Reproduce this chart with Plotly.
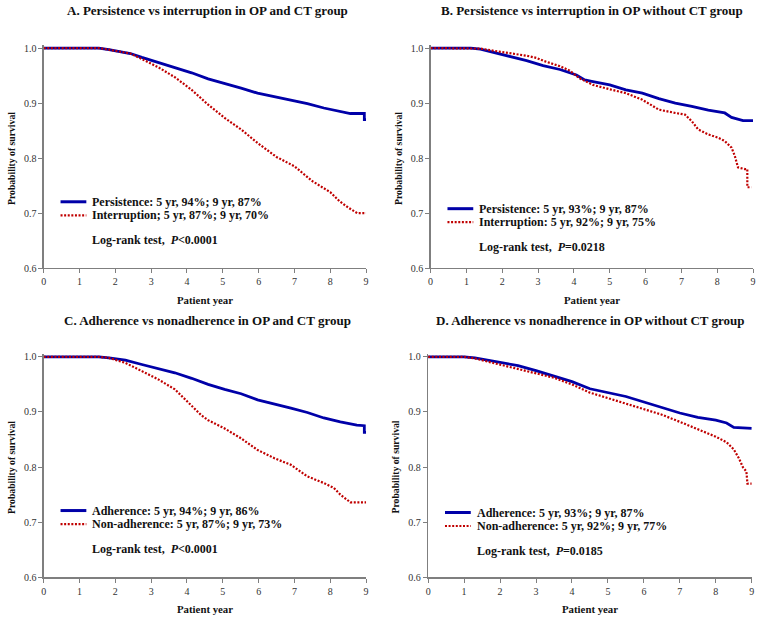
import plotly.graph_objects as go

# ---------------- data ----------------
titles = [
    "A. Persistence vs interruption in OP and CT group",
    "B. Persistence vs interruption in OP without CT group",
    "C. Adherence vs nonadherence in OP and CT group",
    "D. Adherence vs nonadherence in OP without CT group",
]
legend_blue = [
    "Persistence: 5 yr, 94%; 9 yr, 87%",
    "Persistence: 5 yr, 93%; 9 yr, 87%",
    "Adherence: 5 yr, 94%; 9 yr, 86%",
    "Adherence: 5 yr, 93%; 9 yr, 87%",
]
legend_red = [
    "Interruption; 5 yr, 87%; 9 yr, 70%",
    "Interruption: 5 yr, 92%; 9 yr, 75%",
    "Non-adherence: 5 yr, 87%; 9 yr, 73%",
    "Non-adherence: 5 yr, 92%; 9 yr, 77%",
]
pvalues = ["&lt;0.0001", "=0.0218", "&lt;0.0001", "=0.0185"]

x_ticks = [0, 1, 2, 3, 4, 5, 6, 7, 8, 9]
y_ticks = [0.6, 0.7, 0.8, 0.9, 1.0]

# Panel A
a_blue_t = [0, 1.54, 1.82, 2.42, 2.74, 3.2, 3.66, 4.13, 4.59, 5.05, 5.51, 5.97, 6.44, 6.9, 7.36, 7.82, 8.28, 8.56, 8.95, 8.95, 9.0]
a_blue_s = [1.0, 1.0, 0.997, 0.990, 0.983, 0.974, 0.965, 0.955, 0.944, 0.936, 0.927, 0.918, 0.912, 0.905, 0.899, 0.891, 0.885, 0.881, 0.881, 0.870, 0.870]
a_red_t = [0, 1.54, 1.82, 2.42, 2.74, 3.2, 3.66, 4.13, 4.59, 5.05, 5.51, 6.0, 6.5, 7.0, 7.5, 8.0, 8.25, 8.5, 8.75, 9.0]
a_red_s = [1.0, 1.0, 0.997, 0.990, 0.980, 0.965, 0.947, 0.924, 0.897, 0.873, 0.852, 0.826, 0.802, 0.785, 0.758, 0.738, 0.722, 0.710, 0.700, 0.700]

# Panel B
b_blue_t = [0, 1.12, 1.39, 1.76, 2.22, 2.68, 3.14, 3.61, 4.07, 4.3, 4.53, 5.0, 5.45, 5.91, 6.37, 6.83, 7.29, 7.75, 8.21, 8.4, 8.72, 9.0]
b_blue_s = [1.0, 1.0, 0.998, 0.992, 0.985, 0.977, 0.968, 0.961, 0.951, 0.942, 0.939, 0.933, 0.924, 0.918, 0.908, 0.900, 0.894, 0.887, 0.882, 0.874, 0.868, 0.868]
b_red_t = [0, 1.12, 1.39, 1.76, 2.22, 2.68, 2.96, 3.14, 3.61, 3.88, 4.16, 4.53, 5.0, 5.45, 5.91, 6.37, 6.83, 7.1, 7.29, 7.47, 7.75, 8.03, 8.21, 8.4, 8.49, 8.58, 8.77, 8.84, 8.84, 8.95]
b_red_s = [1.0, 1.0, 0.999, 0.995, 0.991, 0.986, 0.982, 0.977, 0.967, 0.959, 0.945, 0.933, 0.925, 0.918, 0.906, 0.888, 0.882, 0.879, 0.867, 0.852, 0.843, 0.837, 0.831, 0.819, 0.804, 0.783, 0.780, 0.780, 0.747, 0.747]

# Panel C
c_blue_t = [0, 1.54, 1.82, 2.28, 2.74, 3.2, 3.66, 4.13, 4.59, 5.05, 5.51, 5.97, 6.44, 6.9, 7.36, 7.82, 8.28, 8.74, 8.95, 8.95, 9.0]
c_blue_s = [1.0, 1.0, 0.998, 0.994, 0.986, 0.979, 0.971, 0.961, 0.950, 0.941, 0.933, 0.922, 0.915, 0.907, 0.899, 0.889, 0.882, 0.876, 0.875, 0.863, 0.863]
c_red_t = [0, 1.54, 1.82, 2.28, 2.74, 3.2, 3.66, 4.13, 4.4, 4.59, 5.05, 5.51, 5.97, 6.44, 6.9, 7.36, 7.82, 8.1, 8.28, 8.56, 9.0]
c_red_s = [1.0, 1.0, 0.998, 0.989, 0.974, 0.959, 0.941, 0.912, 0.894, 0.885, 0.870, 0.852, 0.831, 0.816, 0.804, 0.783, 0.771, 0.762, 0.750, 0.736, 0.736]

# Panel D
d_blue_t = [0, 1.0, 1.3, 2.0, 2.5, 3.0, 3.5, 4.0, 4.5, 5.0, 5.5, 6.0, 6.5, 7.0, 7.5, 8.0, 8.3, 8.5, 9.0]
d_blue_s = [1.0, 1.0, 0.998, 0.990, 0.984, 0.975, 0.965, 0.955, 0.942, 0.935, 0.928, 0.918, 0.908, 0.898, 0.890, 0.885, 0.880, 0.872, 0.870]
d_red_t = [0, 1.0, 1.3, 2.0, 2.5, 3.0, 3.5, 4.0, 4.5, 5.0, 5.5, 6.0, 6.5, 7.0, 7.5, 8.0, 8.3, 8.5, 8.65, 8.75, 8.85, 8.88, 9.0]
d_red_s = [1.0, 1.0, 0.997, 0.986, 0.978, 0.970, 0.962, 0.950, 0.935, 0.925, 0.915, 0.905, 0.895, 0.882, 0.868, 0.855, 0.845, 0.832, 0.815, 0.800, 0.792, 0.770, 0.770]

blue_series = [(a_blue_t, a_blue_s), (b_blue_t, b_blue_s), (c_blue_t, c_blue_s), (d_blue_t, d_blue_s)]
red_series = [(a_red_t, a_red_s), (b_red_t, b_red_s), (c_red_t, c_red_s), (d_red_t, d_red_s)]

# ---------------- layout geometry (pixels) ----------------
W, H = 762, 622
FONT = "Liberation Serif"
BLUE = "#0000A8"
RED = "#C00000"
RED_DASH = "2px,1.6px"

# plot areas: (x0, x9, y_top(1.0), y_bottom(0.6))
panels = [
    (41, 366, 45.7, 269.0),
    (431, 756, 45.7, 269.0),
    (41, 366, 359.0, 582.7),
    (428.5, 754.7, 359.0, 582.7),
]
title_pos = [(206, 8), (594, 8), (206, 322), (592, 322)]
legend_shift = [0, 7, 0, 2]
YTOP = 1.005


def px(x):
    return x / W


def py(y):
    return 1 - y / H


fig = go.Figure()
layout = dict(
    width=W, height=H,
    margin=dict(l=0, r=0, t=0, b=0),
    paper_bgcolor="white", plot_bgcolor="white",
    showlegend=False,
    font=dict(family=FONT, size=10, color="#222"),
)
annotations = []
shapes = []

for i in range(4):
    x0, x9, ytop, ybot = panels[i]
    per = (ybot - ytop) / 0.4
    top_px = ytop - (YTOP - 1.0) * per
    sfx = "" if i == 0 else str(i + 1)
    xa, ya = "x" + sfx, "y" + sfx
    layout["xaxis" + sfx] = dict(
        domain=[px(x0), px(x9)], range=[0, 9], anchor=ya,
        tickvals=x_ticks, ticks="outside", ticklen=4, tickwidth=1,
        tickcolor="#7f7f7f", showline=True, linecolor="#7f7f7f", linewidth=1.3,
        showgrid=False, zeroline=False,
        tickfont=dict(family=FONT, size=10, color="#333"),
    )
    layout["yaxis" + sfx] = dict(
        domain=[py(ybot), py(top_px)], range=[0.6, YTOP], anchor=xa,
        tickvals=y_ticks, tickformat=".1f", ticks="outside", ticklen=4, tickwidth=1,
        tickcolor="#7f7f7f", showline=True, linecolor="#7f7f7f", linewidth=1.3,
        showgrid=False, zeroline=False,
        tickfont=dict(family=FONT, size=10, color="#333"),
    )
    bt, bs = blue_series[i]
    rt, rs = red_series[i]
    fig.add_trace(go.Scatter(x=bt, y=bs, mode="lines", xaxis=xa, yaxis=ya,
                             line=dict(color=BLUE, width=2.8), name=legend_blue[i]))
    fig.add_trace(go.Scatter(x=rt, y=rs, mode="lines", xaxis=xa, yaxis=ya,
                             line=dict(color=RED, width=2.2, dash=RED_DASH), name=legend_red[i]))

    # title
    tx, ty = title_pos[i]
    annotations.append(dict(text=titles[i], x=px(tx), y=py(ty), xref="paper", yref="paper",
                            xanchor="center", yanchor="middle", showarrow=False,
                            font=dict(family=FONT, size=13, color="#111", weight="bold")))
    # y axis title
    annotations.append(dict(text="Probability of survival", x=px(x0 - 33), y=py((ytop + ybot) / 2),
                            xref="paper", yref="paper", xanchor="center", yanchor="middle",
                            textangle=-90, showarrow=False,
                            font=dict(family=FONT, size=9.7, color="#111", weight="bold")))
    # x axis title
    annotations.append(dict(text="Patient year", x=px((x0 + x9) / 2), y=py(ybot + 32),
                            xref="paper", yref="paper", xanchor="center", yanchor="middle",
                            showarrow=False,
                            font=dict(family=FONT, size=10.8, color="#111", weight="bold")))
    # legend block
    lx0 = x0 + 17
    lx1 = x0 + 43
    ltx = x0 + 47
    l1 = ytop + 156 + legend_shift[i]
    l2 = l1 + 13.7
    l3 = l1 + 38.7
    shapes.append(dict(type="line", xref="paper", yref="paper", x0=px(lx0), x1=px(lx1),
                       y0=py(l1), y1=py(l1), line=dict(color=BLUE, width=3)))
    shapes.append(dict(type="line", xref="paper", yref="paper", x0=px(lx0), x1=px(lx1),
                       y0=py(l2), y1=py(l2), line=dict(color=RED, width=2.2, dash=RED_DASH)))
    for txt, yy in [(legend_blue[i], l1), (legend_red[i], l2),
                    ("Log-rank test,  <i>P</i>" + pvalues[i], l3)]:
        annotations.append(dict(text=txt, x=px(ltx), y=py(yy), xref="paper", yref="paper",
                                xanchor="left", yanchor="middle", showarrow=False,
                                font=dict(family=FONT, size=12, color="#111", weight="bold")))

layout["annotations"] = annotations
layout["shapes"] = shapes
fig.update_layout(**layout)
fig.write_html("out.html",
               config={"displayModeBar": False, "staticPlot": True},
               post_script="document.body.style.margin='0px';document.body.style.overflow='hidden';")
